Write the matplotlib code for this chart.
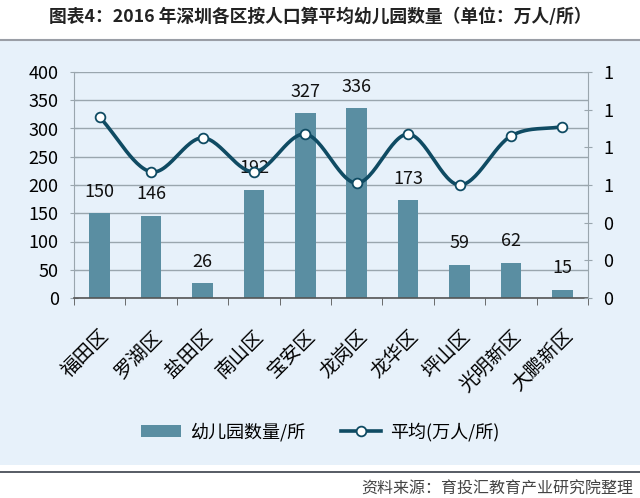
import numpy as np
import matplotlib
matplotlib.use("Agg")
import matplotlib.pyplot as plt
from matplotlib.patches import Rectangle
from matplotlib.lines import Line2D
from matplotlib.patches import Patch
from matplotlib.ticker import FuncFormatter, MultipleLocator

plt.rcParams['font.family'] = ['Noto Sans CJK SC', 'DejaVu Sans']

categories = ["福田区", "罗湖区", "盐田区", "南山区", "宝安区", "龙岗区", "龙华区", "坪山区", "光明新区", "大鹏新区"]
counts = [150, 146, 26, 192, 327, 336, 173, 59, 62, 15]
avg = [0.96, 0.67, 0.85, 0.67, 0.87, 0.61, 0.87, 0.60, 0.86, 0.91]
title = "图表4：2016 年深圳各区按人口算平均幼儿园数量（单位：万人/所）"
bar_label = "幼儿园数量/所"
line_label = "平均(万人/所)"
source = "资料来源：育投汇教育产业研究院整理"

bg = "#e7f1fa"
bar_color = "#5a8ea2"
line_color = "#0f4b63"
grid_color = "#9aa6ae"

fig = plt.figure(figsize=(6.4, 4.98), dpi=100)
fig.patches.append(Rectangle((0, 33/498), 1, (465-40)/498 + 0.002, transform=fig.transFigure,
                             facecolor=bg, edgecolor='none', zorder=-10))
fig.add_artist(Line2D([0, 1], [1-40/498]*2, transform=fig.transFigure, color="#9a9ea6", lw=1.5))
fig.add_artist(Line2D([0, 1], [1-472/498]*2, transform=fig.transFigure, color="#3a3f4a", lw=1.2))
fig.text(0.5, 1-17/498, title, ha='center', va='center', fontsize=12.8, fontweight='bold', color="#222222")
fig.text(0.99, 1-489/498, source, ha='right', va='center', fontsize=11.5, color="#444444")

ax = fig.add_axes([74/640, 1-298/498, (588-74)/640, (298-72)/498])
ax.set_facecolor('none')
x = np.arange(len(categories))
bars = ax.bar(x, counts, width=0.4, color=bar_color, zorder=2)
for xi, v in zip(x, counts):
    ax.annotate(str(v), (xi, v), xytext=(0, 9), textcoords='offset points', ha='center', va='bottom',
                fontsize=13, color="#111111", zorder=5)
ax.set_ylim(0, 400)
ax.set_xlim(-0.5, len(categories)-0.5)
ax.yaxis.set_major_locator(MultipleLocator(50))
ax.grid(axis='y', color=grid_color, lw=1, zorder=0)
ax.set_xticks(x)
ax.set_xticklabels(categories, rotation=45, ha='right', rotation_mode='anchor', fontsize=14)
ax.set_xticks(np.arange(len(categories)+1)-0.5, minor=True)
ax.tick_params(axis='x', which='major', length=0, pad=20)
ax.tick_params(axis='x', which='minor', length=5, direction='out', color="#555555")
ax.tick_params(axis='y', labelsize=13, length=6, direction='inout', color=grid_color, pad=8)
for s in ['top', 'right']:
    ax.spines[s].set_visible(False)
ax.spines['left'].set_color(grid_color)
ax.spines['bottom'].set_color("#555555")
ax.spines['bottom'].set_linewidth(1.2)

ax2 = ax.twinx()
ax2.set_ylim(0, 1.2)
ax2.yaxis.set_major_locator(MultipleLocator(0.2))
ax2.yaxis.set_major_formatter(FuncFormatter(lambda v, p: "%d" % int(round(v + 1e-9))))
ax2.tick_params(axis='y', labelsize=13, length=6, direction='inout', color=grid_color, pad=8)
for s in ['top', 'left', 'bottom']:
    ax2.spines[s].set_visible(False)
ax2.spines['right'].set_color(grid_color)

# Catmull-Rom smoothing through the data points
px = x.astype(float)
py = np.array(avg, dtype=float)
P = np.column_stack([px, py])
P_ext = np.vstack([P[0] - (P[1]-P[0]), P, P[-1] + (P[-1]-P[-2])])
sx, sy = [], []
for i in range(1, len(P_ext)-2):
    p0, p1, p2, p3 = P_ext[i-1], P_ext[i], P_ext[i+1], P_ext[i+2]
    t = np.linspace(0, 1, 30)[:, None]
    c = 0.5*((2*p1) + (-p0+p2)*t + (2*p0-5*p1+4*p2-p3)*t**2 + (-p0+3*p1-3*p2+p3)*t**3)
    sx.extend(c[:, 0]); sy.extend(c[:, 1])
ax2.plot(sx, sy, color=line_color, lw=2.6, zorder=3, solid_capstyle='round')
ax2.plot(px, py, 'o', ms=7, mfc='white', mec=line_color, mew=1.3, zorder=4)

handles = [Patch(facecolor=bar_color, edgecolor='none'),
           Line2D([], [], color=line_color, lw=2.6, marker='o', ms=7, mfc='white', mec=line_color, mew=1.3)]
fig.legend(handles, [bar_label, line_label], loc='center', bbox_to_anchor=(0.5, 1-432/498), ncol=2,
           frameon=False, fontsize=13, handlelength=2.2, columnspacing=2.0, handletextpad=0.5)

fig.savefig("out.png", dpi=100)
